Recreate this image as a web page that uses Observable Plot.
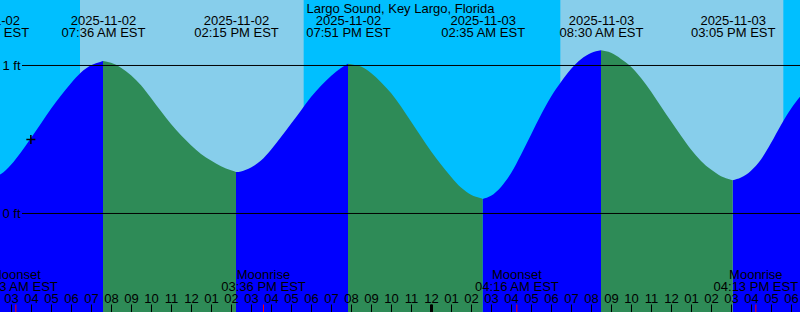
<!DOCTYPE html>
<html><head><meta charset="utf-8">
<script src="https://cdn.jsdelivr.net/npm/d3@7"></script>
<script src="https://cdn.jsdelivr.net/npm/@observablehq/plot@0.6"></script>
<style>body{margin:0;background:#00bfff;} #chart svg{display:block}</style>
</head><body><div id="chart"></div>
<script>
const title = "Largo Sound, Key Largo, Florida";
// tide extremes (EST)
const tideTimes = ["2025-11-02T01:47","2025-11-02T07:36","2025-11-02T14:15","2025-11-02T19:51","2025-11-03T02:35","2025-11-03T08:30","2025-11-03T15:05"];
const tideLevels = [0.235, 1.027, 0.277, 1.009, 0.095, 1.099, 0.221];
// tide height (ft)
const sampleTimes = [
 "2025-11-02T02:30","2025-11-02T03:00","2025-11-02T03:30","2025-11-02T04:00","2025-11-02T04:30","2025-11-02T05:00","2025-11-02T05:30","2025-11-02T06:00","2025-11-02T06:30","2025-11-02T07:00","2025-11-02T07:30",
 "2025-11-02T08:00","2025-11-02T08:30","2025-11-02T09:00","2025-11-02T09:30","2025-11-02T10:00","2025-11-02T10:30","2025-11-02T11:00","2025-11-02T11:30","2025-11-02T12:00","2025-11-02T12:30","2025-11-02T13:00","2025-11-02T13:30","2025-11-02T14:00",
 "2025-11-02T14:30","2025-11-02T15:00","2025-11-02T15:30","2025-11-02T16:00","2025-11-02T16:30","2025-11-02T17:00","2025-11-02T17:30","2025-11-02T18:00","2025-11-02T18:30","2025-11-02T19:00","2025-11-02T19:30",
 "2025-11-02T20:00","2025-11-02T20:30","2025-11-02T21:00","2025-11-02T21:30","2025-11-02T22:00","2025-11-02T22:30","2025-11-02T23:00","2025-11-02T23:30","2025-11-03T00:00","2025-11-03T00:30","2025-11-03T01:00","2025-11-03T01:30","2025-11-03T02:00","2025-11-03T02:30",
 "2025-11-03T03:00","2025-11-03T03:30","2025-11-03T04:00","2025-11-03T04:30","2025-11-03T05:00","2025-11-03T05:30","2025-11-03T06:00","2025-11-03T06:30","2025-11-03T07:00","2025-11-03T07:30","2025-11-03T08:00",
 "2025-11-03T09:00","2025-11-03T09:30","2025-11-03T10:00","2025-11-03T10:30","2025-11-03T11:00","2025-11-03T11:30","2025-11-03T12:00","2025-11-03T12:30","2025-11-03T13:00","2025-11-03T13:30","2025-11-03T14:00","2025-11-03T14:30","2025-11-03T15:00",
 "2025-11-03T15:30","2025-11-03T16:00","2025-11-03T16:30","2025-11-03T17:00","2025-11-03T17:30","2025-11-03T18:00","2025-11-03T18:30"
];
const sampleLevels = [
 0.263,0.326,0.411,0.507,0.605,0.705,0.794,0.877,0.949,0.998,1.022,
 1.015,0.982,0.930,0.863,0.777,0.687,0.602,0.525,0.458,0.399,0.354,0.316,0.288,
 0.281,0.307,0.354,0.428,0.514,0.603,0.693,0.783,0.860,0.926,0.980,
 1.005,0.989,0.945,0.884,0.811,0.720,0.618,0.517,0.417,0.328,0.245,0.172,0.124,0.099,
 0.116,0.176,0.269,0.394,0.529,0.663,0.785,0.885,0.973,1.039,1.081,
 1.082,1.041,0.988,0.912,0.821,0.720,0.619,0.522,0.429,0.352,0.293,0.249,0.225,
 0.239,0.286,0.362,0.472,0.595,0.705,0.794
];
const moonTimes = ["2025-11-02T03:13","2025-11-02T15:36","2025-11-03T04:16","2025-11-03T16:13"];
const moonEvents = ["Moonset","Moonrise","Moonset","Moonrise"];
const sunrises = ["2025-11-02T06:27","2025-11-03T06:28"];
const sunsets = ["2025-11-02T17:38","2025-11-03T17:37"];
const levelLines = [1, 0];
const midnights = ["2025-11-03T00:00"];
const markTimes = ["2025-11-02T03:58"];
const markLevels = [0.50];

const parse = d3.utcParse("%Y-%m-%dT%H:%M");
const tides = tideTimes.map((t, i) => ({time: parse(t), level: tideLevels[i]}));
const samples = sampleTimes.map((t, i) => ({time: parse(t), level: sampleLevels[i]}));
const curve = [];
for (let i = 0; i < tides.length; i++) {
  const a = tides[i], b = tides[i + 1];
  const rising = b ? b.level > a.level : a.level < tides[i - 1].level;
  const pts = [a, ...samples.filter(s => s.time > a.time && (!b || s.time < b.time))];
  if (b) pts.push(b);
  for (const p of pts) curve.push({...p, seg: i, rising});
}
const days = sunrises.map((s, i) => ({start: parse(s), end: parse(sunsets[i])}));
const moons = moonTimes.map((t, i) => ({time: parse(t), name: moonEvents[i]}));
const hourTicks = d3.utcHours(parse("2025-11-02T03:00"), parse("2025-11-03T19:00"));
const marks = markTimes.map((t, i) => ({time: parse(t), level: markLevels[i]}));
const fmtDate = d3.utcFormat("%Y-%m-%d"), fmtTime = d3.utcFormat("%I:%M %p");
const label = d => `${fmtDate(d)}\n${fmtTime(d)} EST`;
const plusSymbol = {draw(ctx, size) { const r = Math.sqrt(size / Math.PI); ctx.moveTo(-r, 0); ctx.lineTo(r, 0); ctx.moveTo(0, -r); ctx.lineTo(0, r); }};
const Y0 = -0.669, Y1 = 1.439;
const FS = 13;

const chart = Plot.plot({
  width: 800, height: 312, margin: 0,
  style: {background: "#00bfff", fontFamily: "'Liberation Sans', Arial, sans-serif", fontSize: "13px", color: "black"},
  x: {type: "utc", domain: [parse("2025-11-02T02:27"), parse("2025-11-03T18:27")], range: [0, 800]},
  y: {domain: [Y0, Y1], range: [312, 0], axis: null},
  marks: [
    Plot.rect(days, {x1: "start", x2: "end", fill: "#87ceeb"}),
    Plot.areaY(curve, {filter: d => d.rising, x: "time", y1: Y0, y2: "level", z: "seg", fill: "#0000ff", curve: "monotone-x", clip: true}),
    Plot.areaY(curve, {filter: d => !d.rising, x: "time", y1: Y0, y2: "level", z: "seg", fill: "#2e8b57", curve: "monotone-x", clip: true}),
    Plot.ruleY(levelLines, {insetLeft: 22, stroke: "black"}),
    Plot.text(levelLines, {y: d => d, text: d => `${d} ft`, frameAnchor: "left", textAnchor: "start", dx: 2, lineAnchor: "middle", fontSize: FS, fill: "black"}),
    Plot.dot(marks, {x: "time", y: "level", symbol: plusSymbol, r: 4.5, stroke: "black", fill: "none"}),
    Plot.text([title], {text: d => d, frameAnchor: "top", lineAnchor: "bottom", dy: 12, fontSize: FS, fill: "black"}),
    Plot.text(tides, {x: "time", text: d => label(d.time), frameAnchor: "top", lineAnchor: "bottom", dy: 36, lineHeight: 12 / 13, fontSize: FS, fill: "black"}),
    Plot.text(moons, {x: "time", text: d => `${d.name}\n${fmtTime(d.time)} EST`, frameAnchor: "bottom", lineAnchor: "bottom", dy: -22, lineHeight: 12 / 13, fontSize: FS, fill: "black"}),
    Plot.text(hourTicks, {x: d => d, text: d3.utcFormat("%I"), frameAnchor: "bottom", lineAnchor: "bottom", dy: -10, fontSize: FS, fill: "black"}),
    Plot.axisX(hourTicks, {anchor: "bottom", tickSize: 8, dy: -7.5, tickFormat: () => "", label: null, stroke: "black"}),
    Plot.axisX(midnights.map(parse), {anchor: "bottom", tickSize: 8, dy: -7.5, strokeWidth: 3, tickFormat: () => "", label: null, stroke: "black"}),
    Plot.axisX(moons.map(d => d.time), {anchor: "bottom", tickSize: 8, dy: -7.5, tickFormat: () => "", label: null, stroke: "#ff0000"})
  ]
});
document.getElementById("chart").append(chart);
</script>
</body></html>
